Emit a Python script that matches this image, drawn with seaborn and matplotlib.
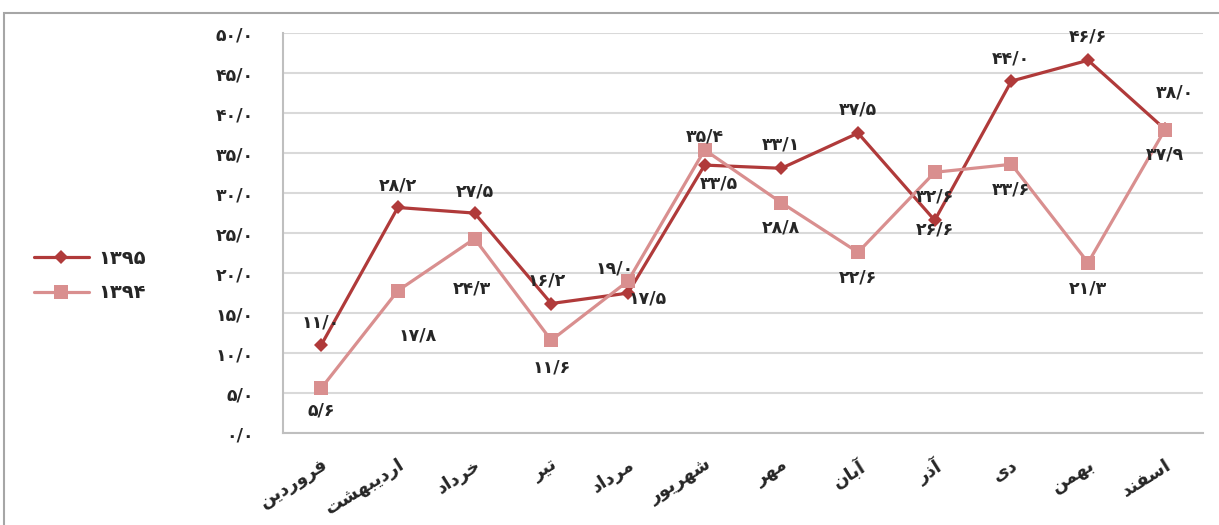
import pandas as pd
import matplotlib
matplotlib.use("Agg")
import matplotlib.pyplot as plt
import matplotlib.patches as mpatches
import seaborn as sns

# داده‌ها
months = ["فروردین", "اردیبهشت", "خرداد", "تیر", "مرداد", "شهریور",
          "مهر", "آبان", "آذر", "دی", "بهمن", "اسفند"]
years = ["۱۳۹۵", "۱۳۹۴"]
values_1395 = [11.0, 28.2, 27.5, 16.2, 17.5, 33.5, 33.1, 37.5, 26.6, 44.0, 46.6, 38.0]
values_1394 = [5.6, 17.8, 24.3, 11.6, 19.0, 35.4, 28.8, 22.6, 32.6, 33.6, 21.3, 37.9]
y_ticks = [0, 5, 10, 15, 20, 25, 30, 35, 40, 45, 50]

# label offsets in pixels (dx, dy)
offsets_1395 = [(0, 23), (0, 22), (0, 22), (-5, 23), (20, -5), (14, -18),
                (0, 24), (0, 24), (0, -9), (0, 23), (0, 24), (10, 37)]
offsets_1394 = [(0, -22), (20, -45), (-3, -50), (0, -27), (-13, 13), (0, 13),
                (0, -25), (0, -25), (0, -24), (0, -25), (0, -26), (0, -25)]

colors = {"۱۳۹۵": "#B03A3A", "۱۳۹۴": "#D98F8F"}

# simple arabic-script shaping (matplotlib has no shaping)
FORMS = {
    "ا": ("\uFE8D", "\uFE8E", None, None),
    "آ": ("\uFE81", "\uFE82", None, None),
    "ب": ("\uFE8F", "\uFE90", "\uFE91", "\uFE92"),
    "ت": ("\uFE95", "\uFE96", "\uFE97", "\uFE98"),
    "خ": ("\uFEA5", "\uFEA6", "\uFEA7", "\uFEA8"),
    "د": ("\uFEA9", "\uFEAA", None, None),
    "ذ": ("\uFEAB", "\uFEAC", None, None),
    "ر": ("\uFEAD", "\uFEAE", None, None),
    "س": ("\uFEB1", "\uFEB2", "\uFEB3", "\uFEB4"),
    "ش": ("\uFEB5", "\uFEB6", "\uFEB7", "\uFEB8"),
    "ف": ("\uFED1", "\uFED2", "\uFED3", "\uFED4"),
    "م": ("\uFEE1", "\uFEE2", "\uFEE3", "\uFEE4"),
    "ن": ("\uFEE5", "\uFEE6", "\uFEE7", "\uFEE8"),
    "ه": ("\uFEE9", "\uFEEA", "\uFEEB", "\uFEEC"),
    "و": ("\uFEED", "\uFEEE", None, None),
    "ی": ("\uFBFC", "\uFBFD", "\uFBFE", "\uFBFF"),
}


def shape(word):
    out = []
    for i, c in enumerate(word):
        f = FORMS.get(c)
        if f is None:
            out.append(c)
            continue
        prev = word[i - 1] if i > 0 else None
        nxt = word[i + 1] if i + 1 < len(word) else None
        jp = prev in FORMS and FORMS[prev][2] is not None
        jn = f[2] is not None and nxt in FORMS
        if jp and jn:
            out.append(f[3])
        elif jn:
            out.append(f[2])
        elif jp:
            out.append(f[1])
        else:
            out.append(f[0])
    return "".join(reversed(out))


def fa_num(v):
    s = f"{v:.1f}".replace(".", "/")
    return s.translate(str.maketrans("0123456789", "۰۱۲۳۴۵۶۷۸۹"))


sns.set_style("white")
plt.rcParams["font.family"] = ["DejaVu Sans"]

df = pd.DataFrame({
    "idx": list(range(len(months))) * 2,
    "value": values_1395 + values_1394,
    "year": [years[0]] * len(months) + [years[1]] * len(months),
})

fig, ax = plt.subplots(figsize=(12.19, 5.25), dpi=100)
fig.subplots_adjust(left=0.232, right=0.987, top=0.937, bottom=0.175)

sns.lineplot(data=df, x="idx", y="value", hue="year", style="year",
             hue_order=years, style_order=years, palette=colors,
             markers={years[0]: "D", years[1]: "s"}, dashes=False,
             linewidth=2.3, legend=False, ax=ax)

for line, ms in zip(ax.lines, [7, 10]):
    line.set_markersize(ms)
    line.set_markeredgecolor(line.get_color())
    line.set_markeredgewidth(0)

# data labels
for vals, offs in [(values_1395, offsets_1395), (values_1394, offsets_1394)]:
    for i, (v, (dx, dy)) in enumerate(zip(vals, offs)):
        ax.annotate(fa_num(v), (i, v), xytext=(dx, dy), textcoords="offset pixels",
                    ha="center", va="center", fontsize=12.5, fontweight="bold")

ax.set_xlim(-0.5, len(months) - 0.5)
ax.set_ylim(0, 50)
ax.set_yticks(y_ticks)
ax.set_yticklabels([fa_num(t) for t in y_ticks], fontsize=12.5, fontweight="bold")
ax.set_xticks(range(len(months)))
ax.set_xticklabels([shape(m) for m in months], rotation=32, ha="right", va="top",
                   rotation_mode="anchor", fontsize=13, fontweight="bold")
ax.set_xticks([i - 0.5 for i in range(len(months) + 1)], minor=True)
ax.tick_params(axis="x", which="major", length=0, pad=16)
ax.tick_params(axis="x", which="minor", length=4, color="#BFBFBF", width=1.2, direction="out")
ax.tick_params(axis="y", length=8, color="#D9D9D9", width=1.5, pad=13)
ax.set_xlabel("")
ax.set_ylabel("")

ax.yaxis.grid(True, color="#D9D9D9", linewidth=1.5)
ax.xaxis.grid(False)
ax.set_axisbelow(True)
for side in ["top", "right"]:
    ax.spines[side].set_visible(False)
for side in ["left", "bottom"]:
    ax.spines[side].set_color("#BFBFBF")
    ax.spines[side].set_linewidth(1.5)

fig.legend(handles=ax.lines[:2], labels=years, loc="center left",
           bbox_to_anchor=(0.028, 0.475), frameon=False,
           prop={"weight": "bold", "size": 14}, handlelength=2.8,
           handletextpad=0.5, labelspacing=0.8, borderpad=0, borderaxespad=0)

# chart border
fig.patches.append(mpatches.Rectangle((0.003, -0.02), 1.0, 0.995,
                                      transform=fig.transFigure, fill=False,
                                      edgecolor="#A6A6A6", linewidth=1.5))

plt.savefig("out.png", dpi=100)
